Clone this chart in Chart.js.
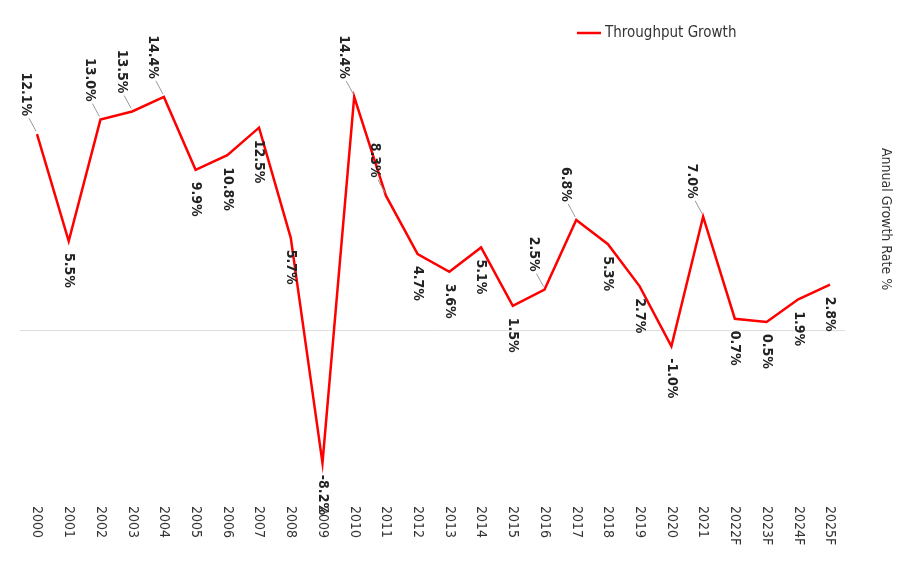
<!DOCTYPE html>
<html>
<head>
<meta charset="utf-8">
<script src="https://cdn.jsdelivr.net/npm/chart.js@4"></script>
<style>
  html, body { margin: 0; padding: 0; background: #fff; }
  #wrap { width: 904px; height: 564px; }
</style>
</head>
<body>
<div id="wrap"><canvas id="chart"></canvas></div>
<script>
// Chart data
const years = ['2000','2001','2002','2003','2004','2005','2006','2007','2008','2009','2010','2011','2012',
               '2013','2014','2015','2016','2017','2018','2019','2020','2021','2022F','2023F','2024F','2025F'];
const growth = [12.1, 5.5, 13.0, 13.5, 14.4, 9.9, 10.8, 12.5, 5.7, -8.2, 14.4, 8.3, 4.7,
                3.6, 5.1, 1.5, 2.5, 6.8, 5.3, 2.7, -1.0, 7.0, 0.7, 0.5, 1.9, 2.8];
// indices whose value label sits above the point
const labelsAbove = [0, 2, 3, 4, 10, 11, 16, 17, 21];

const FONT = '"Liberation Sans Narrow", "DejaVu Sans Condensed", sans-serif';

function drawRotated(ctx, text, x, y, align) {
    ctx.save();
    ctx.translate(x, y);
    ctx.rotate(Math.PI / 2);
    ctx.textAlign = align;
    ctx.textBaseline = 'middle';
    ctx.fillText(text, 0, 0);
    ctx.restore();
}

const decorations = {
    id: 'decorations',
    beforeDatasetsDraw(chart) {
        const ctx = chart.ctx;
        const y0 = chart.scales.y.getPixelForValue(0);
        ctx.save();
        ctx.strokeStyle = '#dddddd';
        ctx.lineWidth = 1;
        ctx.beginPath();
        ctx.moveTo(20, y0 + 0.5);
        ctx.lineTo(845, y0 + 0.5);
        ctx.stroke();
        ctx.restore();
    },
    afterDatasetsDraw(chart) {
        const ctx = chart.ctx;
        const xs = chart.scales.x, ys = chart.scales.y;
        ctx.save();
        ctx.fillStyle = '#222';
        ctx.font = 'bold 14px ' + FONT;
        // value labels
        growth.forEach((v, i) => {
            const px = xs.getPixelForValue(i);
            const py = ys.getPixelForValue(v);
            const txt = v.toFixed(1) + '%';
            if (labelsAbove.includes(i)) {
                ctx.strokeStyle = '#999';
                ctx.lineWidth = 1;
                ctx.beginPath();
                ctx.moveTo(px - 1, py - 3);
                ctx.lineTo(px - 8, py - 16);
                ctx.stroke();
                drawRotated(ctx, txt, px - 11, py - 18, 'right');
            } else {
                drawRotated(ctx, txt, px, py + 12, 'left');
            }
        });
        // x tick labels
        ctx.fillStyle = '#333';
        ctx.font = '14px ' + FONT;
        years.forEach((y, i) => {
            drawRotated(ctx, y, xs.getPixelForValue(i), 506, 'left');
        });
        // axis title
        ctx.font = '14px ' + FONT;
        drawRotated(ctx, 'Annual Growth Rate %', 886, 148, 'left');
        // legend
        ctx.strokeStyle = '#ff0000';
        ctx.lineWidth = 2.5;
        ctx.beginPath();
        ctx.moveTo(577, 33);
        ctx.lineTo(601, 33);
        ctx.stroke();
        ctx.fillStyle = '#333';
        ctx.font = '15px ' + FONT;
        ctx.textAlign = 'left';
        ctx.textBaseline = 'middle';
        ctx.fillText('Throughput Growth', 605, 33);
        ctx.restore();
    }
};

new Chart(document.getElementById('chart'), {
    type: 'line',
    data: {
        labels: years,
        datasets: [{
            label: 'Throughput Growth',
            data: growth,
            borderColor: '#ff0000',
            borderWidth: 2.5,
            pointRadius: 0,
            tension: 0,
            fill: false
        }]
    },
    options: {
        responsive: true,
        maintainAspectRatio: false,
        animation: false,
        layout: { padding: { left: 37, right: 74, top: 71, bottom: 72 } },
        scales: {
            x: { display: false, offset: false },
            y: { display: false, min: -10, max: 16 }
        },
        plugins: {
            legend: { display: false },
            tooltip: { enabled: false }
        }
    },
    plugins: [decorations]
});
</script>
</body>
</html>
